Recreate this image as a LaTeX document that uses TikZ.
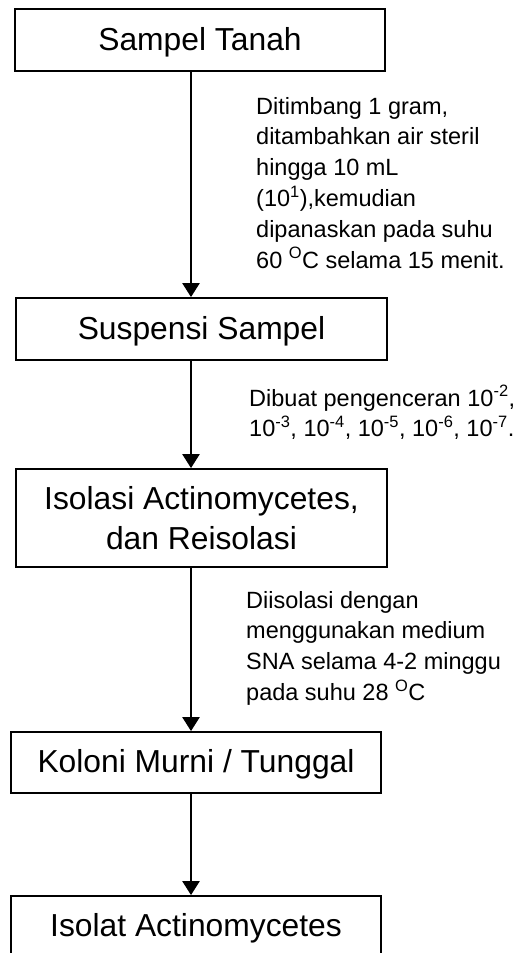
\documentclass[tikz,border=0pt]{standalone}
\usepackage{fontspec}
\setmainfont{Liberation Sans}
\usetikzlibrary{arrows.meta}
\tikzset{
  boxbase/.style={draw, line width=1.8pt, rectangle, inner sep=0pt,
    font=\fontsize{31.8}{40}\selectfont},
  onebox/.style={boxbase, text height=22pt, text depth=2pt},
  twobox/.style={boxbase, align=center},
  arr/.style={line width=2.4pt, -{Triangle[length=14pt,width=17pt]}},
  lbl/.style={anchor=base west, inner sep=0pt,
    font=\fontsize{23.5}{30.8}\selectfont}
}
\begin{document}
\begin{tikzpicture}[x=1pt,y=-1pt]
\useasboundingbox (0,0) rectangle (518,953);
\node[onebox, minimum width=370pt, minimum height=62pt] (b1) at (200,40) {Sampel Tanah};
\node[onebox, minimum width=371pt, minimum height=62pt] (b2) at (201.5,329) {Suspensi Sampel};
\node[twobox, minimum width=371pt, minimum height=98pt] (b3) at (201.5,518) {Isolasi Actinomycetes,\\dan Reisolasi};
\node[onebox, minimum width=370pt, minimum height=61pt] (b4) at (196,762.5) {Koloni Murni / Tunggal};
\node[onebox, minimum width=370pt, minimum height=61pt] (b5) at (196,926.5) {Isolat Actinomycetes};
\coordinate (ax) at (191,0);
\draw[arr] (b1.south -| ax) -- (b2.north -| ax);
\draw[arr] (b2.south -| ax) -- (b3.north -| ax);
\draw[arr] (b3.south -| ax) -- (b4.north -| ax);
\draw[arr] (b4.south -| ax) -- (b5.north -| ax);
\node[lbl] (l1) at (256,114) {\begin{tabular}[t]{@{}l@{}}Ditimbang 1 gram,\\ditambahkan air steril\\hingga 10 mL\\(10\textsuperscript{1}),kemudian\\dipanaskan pada suhu\\60 \textsuperscript{O}C selama 15 menit.\end{tabular}};
\node[lbl] (l2) at (249,406) {\begin{tabular}[t]{@{}l@{}}Dibuat pengenceran 10\textsuperscript{-2},\\10\textsuperscript{-3}, 10\textsuperscript{-4}, 10\textsuperscript{-5}, 10\textsuperscript{-6}, 10\textsuperscript{-7}.\end{tabular}};
\node[lbl] (l3) at (246,608) {\begin{tabular}[t]{@{}l@{}}Diisolasi dengan\\menggunakan medium\\SNA selama 4-2 minggu\\pada suhu 28 \textsuperscript{O}C\end{tabular}};
\end{tikzpicture}
\end{document}
